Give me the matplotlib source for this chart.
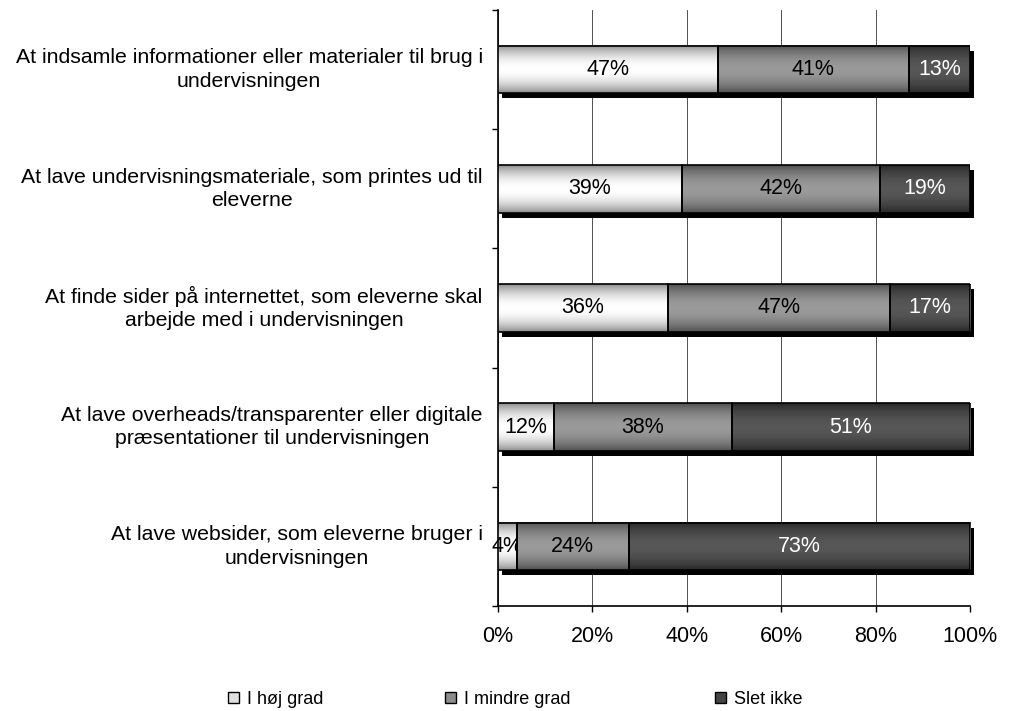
import numpy as np
import matplotlib.pyplot as plt
from matplotlib.transforms import ScaledTranslation
from matplotlib.colors import LinearSegmentedColormap
from matplotlib.patches import Patch

plt.rcParams['font.family'] = ['Liberation Sans', 'DejaVu Sans']

# data
categories = [
    'At indsamle informationer eller materialer til brug i\nundervisningen',
    'At lave undervisningsmateriale, som printes ud til\neleverne',
    'At finde sider på internettet, som eleverne skal\narbejde med i undervisningen',
    'At lave overheads/transparenter eller digitale\npræsentationer til undervisningen',
    'At lave websider, som eleverne bruger i\nundervisningen',
]
hoej_grad = [47, 39, 36, 12, 4]
mindre_grad = [41, 42, 47, 38, 24]
slet_ikke = [13, 19, 17, 51, 73]
series_names = ['I høj grad', 'I mindre grad', 'Slet ikke']
xticks = [0, 20, 40, 60, 80, 100]

# gradient (edge colour, middle colour) and label colour per series
grad_cols = [('#8a8a8a', '#ffffff'), ('#4e4e4e', '#9a9a9a'), ('#262626', '#575757')]
legend_cols = ['#e0e0e0', '#8c8c8c', '#444444']
text_cols = ['black', 'black', 'white']

series = np.array([hoej_grad, mindre_grad, slet_ikke], dtype=float)
shares = series / series.sum(axis=0) * 100  # 100% stacked

fig = plt.figure(figsize=(10.13, 7.11), dpi=100)
ax = fig.add_axes([0.4916, 0.1477, 0.4659, 0.8383])

y = np.arange(len(categories))
h = 0.4

# shadow behind each stacked bar
shadow = ax.barh(y, shares.sum(axis=0), height=h, color='black', zorder=2, clip_on=False)
off = ScaledTranslation(4 / 100, -5 / 100, fig.dpi_scale_trans)
for p in shadow:
    p.set_transform(ax.transData + off)

t = np.linspace(0, 1, 64)
profile = np.sin(np.pi * t) ** 0.8
grad = profile.reshape(-1, 1)

left = np.zeros(len(categories))
for i, name in enumerate(series_names):
    cmap = LinearSegmentedColormap.from_list(name, grad_cols[i])
    bars = ax.barh(y, shares[i], left=left, height=h, facecolor='none',
                   edgecolor='black', linewidth=1.2, zorder=4)
    for p in bars:
        x0, y0, w, hh = p.get_x(), p.get_y(), p.get_width(), p.get_height()
        ax.imshow(grad, cmap=cmap, vmin=0, vmax=1, aspect='auto', zorder=3,
                  extent=(x0, x0 + w, y0 + hh, y0), interpolation='bilinear')
    ax.bar_label(bars, labels=[f'{int(v)}%' for v in series[i]], label_type='center',
                 color=text_cols[i], fontsize=15.5)
    left += shares[i]

ax.set_xlim(0, 100)
ax.set_ylim(len(categories) - 0.5, -0.5)
ax.set_aspect('auto')

ax.set_xticks(xticks)
ax.set_xticklabels([f'{v}%' for v in xticks], fontsize=15.5)
ax.tick_params(axis='x', direction='out', length=4.5, width=1, pad=10)

ax.set_yticks(np.arange(-0.5, len(categories), 1))
ax.set_yticklabels([])
ax.set_yticks(y, minor=True)
ax.set_yticklabels(categories, minor=True, fontsize=15.3, multialignment='center',
                   linespacing=1.3, va='center')
ax.tick_params(axis='y', which='major', direction='out', length=4.5, width=1)
ax.tick_params(axis='y', which='minor', length=0, pad=11)

ax.xaxis.grid(True, color='#333333', linewidth=0.6)
ax.set_axisbelow(True)
ax.spines['top'].set_visible(False)
ax.spines['right'].set_visible(False)
for s in ['left', 'bottom']:
    ax.spines[s].set_linewidth(1.2)

# legend: three entries placed like the original
legend_x = [228 / 1013, 445 / 1013, 715 / 1013]
for i in range(3):
    hnd = Patch(facecolor=legend_cols[i], edgecolor='black', label=series_names[i])
    fig.legend(handles=[hnd], loc='center left', bbox_to_anchor=(legend_x[i], 0.0165),
               frameon=False, fontsize=13, handlelength=0.6, handleheight=0.6,
               handletextpad=0.45, borderaxespad=0, borderpad=0)

fig.savefig('out.png', dpi=100)
